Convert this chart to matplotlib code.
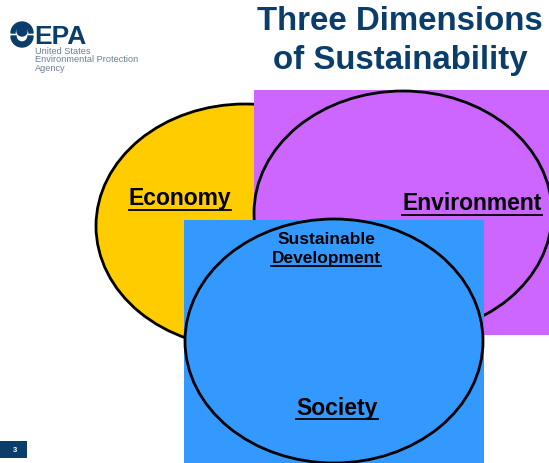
import matplotlib
matplotlib.use("Agg")
import matplotlib.pyplot as plt
from matplotlib.patches import Ellipse, Rectangle, Circle, Wedge

plt.rcParams['font.family'] = ['Liberation Sans', 'DejaVu Sans']

# Diagram content (pixel coordinates of the slide, y grows downward)
names = ['Economy', 'Environment', 'Society']
colors = ['#FFCC00', '#CC66FF', '#3399FF']
centers = [(245, 226), (403, 213), (334, 341)]
width, height = 298, 244
backs = [None, (254, 90, 300, 245), (184, 220, 300, 245)]
label_pos = [(180, 199), (472, 204), (337, 408)]
title_lines = ['Three Dimensions', 'of Sustainability']
center_text = ['Sustainable', 'Development']
page_no = '3'

fig = plt.figure(figsize=(5.49, 4.63), dpi=100)
ax = fig.add_axes([0, 0, 1, 1])
ax.set_xlim(0, 549)
ax.set_ylim(463, 0)
ax.axis('off')

# circles with their background boxes
for i in range(3):
    if backs[i] is not None:
        x, y, w, h = backs[i]
        ax.add_patch(Rectangle((x, y), w, h, facecolor=colors[i], edgecolor='none', zorder=2 * i))
    ax.add_patch(Ellipse(centers[i], width, height, facecolor=colors[i],
                         edgecolor='black', lw=2, zorder=2 * i + 1))

underlined = []
for name, (x, y) in zip(names, label_pos):
    t = ax.text(x, y, name, fontsize=16.5, fontweight='bold', ha='center', va='center',
                color='black', zorder=10)
    underlined.append(t)

ax.text(326, 240, center_text[0], fontsize=12.5, fontweight='bold', ha='center',
        va='center', zorder=10)
t = ax.text(326, 259, center_text[1], fontsize=12.5, fontweight='bold', ha='center',
            va='center', zorder=10)
underlined.append(t)

# title
ax.text(400, 22, title_lines[0], fontsize=23.8, fontweight='bold', color='#0B3D6B',
        ha='center', va='center', zorder=10)
ax.text(400, 60, title_lines[1], fontsize=23.8, fontweight='bold', color='#0B3D6B',
        ha='center', va='center', zorder=10)

# EPA logo
logo = '#0B3D6B'
ax.add_patch(Circle((22, 31), 5, color=logo, zorder=10))
ax.add_patch(Wedge((22, 36), 11, 0, 180, width=5, color=logo, zorder=10))
ax.add_patch(Wedge((22, 33), 11, 180, 360, width=4, color=logo, zorder=10))
ax.text(34, 37, 'EPA', fontsize=19, fontweight='bold', color=logo, ha='left',
        va='center', zorder=10)
ax.text(35, 60, 'United States\nEnvironmental Protection\nAgency', fontsize=6.6,
        color='#6A7F99', ha='left', va='center', linespacing=0.95, zorder=10)

# page number box
ax.add_patch(Rectangle((0, 441), 27, 17, facecolor='#0B3D6B', edgecolor='none', zorder=10))
ax.text(15, 450, page_no, fontsize=5.5, fontweight='bold', color='white',
        ha='center', va='center', zorder=11)

# underline labels
fig.canvas.draw()
r = fig.canvas.get_renderer()
inv = ax.transData.inverted()
for t in underlined:
    bb = t.get_window_extent(renderer=r)
    (x0, y0), (x1, y1) = inv.transform([[bb.x0, bb.y0], [bb.x1, bb.y1]])
    ax.plot([x0, x1], [y0 - 1, y0 - 1], color='black', lw=1.3, zorder=11)

fig.savefig('out.png', dpi=100)
